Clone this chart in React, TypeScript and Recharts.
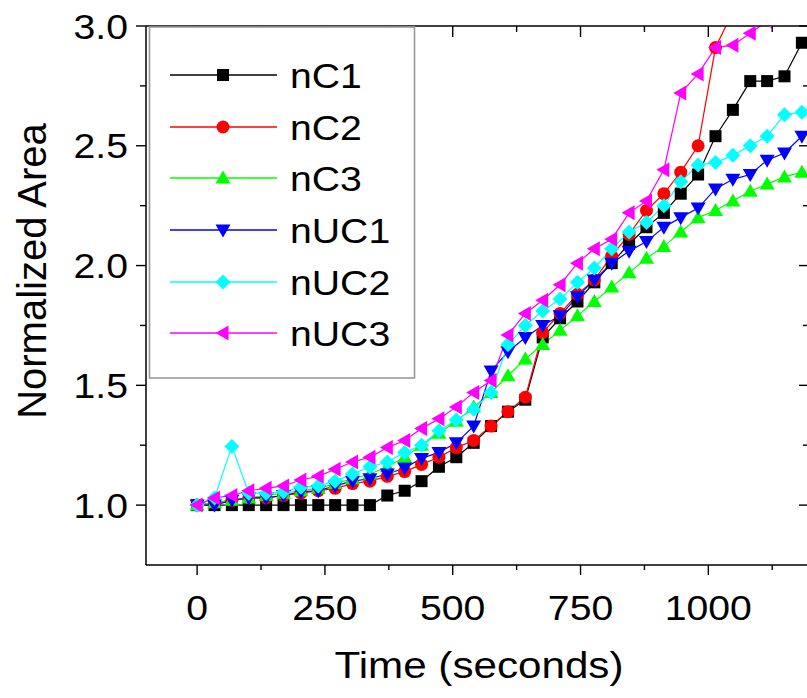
import React from 'react'
import { LineChart, Line, XAxis, YAxis } from 'recharts'

// time (s) of each measurement
const times = [0, 34, 68, 101, 135, 169, 203, 237, 270, 304, 338, 372, 406, 439, 473, 507, 541, 575, 608, 642, 676, 710, 744, 777, 811, 845, 879, 913, 946, 980, 1014, 1048, 1082, 1115, 1149, 1183]

const nC1 = [1, 1, 1, 1, 1, 1, 1, 1, 1, 1, 1, 1.04, 1.06, 1.1, 1.16, 1.2, 1.26, 1.33, 1.39, 1.44, 1.7, 1.78, 1.85, 1.93, 2.01, 2.09, 2.16, 2.22, 2.3, 2.38, 2.54, 2.65, 2.77, 2.77, 2.79, 2.93]
const nC2 = [1, 1.01, 1.02, 1.03, 1.03, 1.04, 1.05, 1.06, 1.07, 1.09, 1.1, 1.12, 1.14, 1.17, 1.2, 1.24, 1.27, 1.33, 1.39, 1.45, 1.72, 1.8, 1.88, 1.94, 2.04, 2.13, 2.23, 2.3, 2.39, 2.5, 2.91, 3.06, null, null, null, null]
const nC3 = [1, 1.01, 1.02, 1.03, 1.04, 1.05, 1.06, 1.07, 1.09, 1.11, 1.13, 1.16, 1.2, 1.25, 1.3, 1.35, 1.41, 1.47, 1.54, 1.61, 1.67, 1.73, 1.79, 1.85, 1.91, 1.97, 2.03, 2.08, 2.14, 2.2, 2.23, 2.27, 2.31, 2.34, 2.37, 2.39]
const nUC1 = [1, 1, 1.02, 1.03, 1.03, 1.04, 1.055, 1.06, 1.08, 1.1, 1.11, 1.13, 1.155, 1.195, 1.22, 1.26, 1.33, 1.56, 1.64, 1.7, 1.75, 1.79, 1.87, 1.94, 2.01, 2.06, 2.1, 2.16, 2.2, 2.24, 2.32, 2.36, 2.38, 2.44, 2.47, 2.54]
const nUC2 = [1, 1.03, 1.245, 1.05, 1.05, 1.055, 1.075, 1.08, 1.1, 1.13, 1.16, 1.18, 1.22, 1.25, 1.31, 1.355, 1.4, 1.47, 1.67, 1.75, 1.81, 1.86, 1.93, 1.99, 2.07, 2.14, 2.18, 2.25, 2.35, 2.42, 2.43, 2.46, 2.5, 2.54, 2.63, 2.64]
const nUC3 = [1, 1.03, 1.04, 1.06, 1.07, 1.08, 1.105, 1.12, 1.15, 1.18, 1.2, 1.24, 1.27, 1.32, 1.36, 1.41, 1.47, 1.52, 1.71, 1.8, 1.855, 1.92, 2.01, 2.07, 2.11, 2.22, 2.27, 2.4, 2.72, 2.8, 2.91, 2.92, 2.97, 3.02, null, null]

const xTicks = [0, 125, 250, 375, 500, 625, 750, 875, 1000, 1125]
const yTicks = [1, 1.25, 1.5, 1.75, 2, 2.25, 2.5, 2.75, 3]

const series = [
  { key: 'nC1', values: nC1, color: '#000000', shape: 'square' },
  { key: 'nC2', values: nC2, color: '#ff0000', shape: 'circle' },
  { key: 'nC3', values: nC3, color: '#00ff00', shape: 'up' },
  { key: 'nUC1', values: nUC1, color: '#0000ff', shape: 'down' },
  { key: 'nUC2', values: nUC2, color: '#00ffff', shape: 'diamond' },
  { key: 'nUC3', values: nUC3, color: '#ff00ff', shape: 'left' },
]

const rows = times.map((t, i) => {
  const row: Record<string, number | null> = { t }
  series.forEach((s) => { row[s.key] = s.values[i] ?? null })
  return row
})

const FONT = '"Liberation Sans", Arial, Helvetica, sans-serif'
const STRETCH = 1.12

function Marker({ shape, cx, cy, color }: { shape: string; cx: number; cy: number; color: string }) {
  const r = 7.5
  switch (shape) {
    case 'square':
      return <rect x={cx - 6} y={cy - 6} width={12} height={12} fill={color} />
    case 'circle':
      return <circle cx={cx} cy={cy} r={6.5} fill={color} />
    case 'up':
      return <polygon points={`${cx},${cy - r} ${cx + r},${cy + 5.5} ${cx - r},${cy + 5.5}`} fill={color} />
    case 'down':
      return <polygon points={`${cx},${cy + r} ${cx + r},${cy - 5.5} ${cx - r},${cy - 5.5}`} fill={color} />
    case 'diamond':
      return <polygon points={`${cx},${cy - r} ${cx + r},${cy} ${cx},${cy + r} ${cx - r},${cy}`} fill={color} />
    default:
      return <polygon points={`${cx - r},${cy} ${cx + 5.5},${cy - r} ${cx + 5.5},${cy + r}`} fill={color} />
  }
}

const makeDot = (shape: string, color: string) => (props: any) => {
  const { cx, cy, index, value } = props
  if (cx == null || cy == null || value == null) return <g key={`${shape}-${index}`} />
  return (
    <g key={`${shape}-${index}`}>
      <Marker shape={shape} cx={cx} cy={cy} color={color} />
    </g>
  )
}

const isMajorX = (v: number) => v % 250 === 0
const isMajorY = (v: number) => Math.abs(v * 2 - Math.round(v * 2)) < 1e-6

const BottomTick = ({ x, y, payload }: any) => {
  const major = isMajorX(payload.value)
  return (
    <g>
      <line x1={x} x2={x} y1={y} y2={y + (major ? 10 : 5)} stroke="#000" strokeWidth={1.4} />
      {major && (
        <text transform={`translate(${x},${y + 55}) scale(${STRETCH},1)`} textAnchor="middle"
          fontSize={35} fontFamily={FONT} fill="#000">{payload.value}</text>
      )}
    </g>
  )
}

const TopTick = ({ x, y, payload }: any) => {
  const major = isMajorX(payload.value)
  return <line x1={x} x2={x} y1={y} y2={y + (major ? 11 : 6)} stroke="#000" strokeWidth={1.4} />
}

const LeftTick = ({ x, y, payload }: any) => {
  const major = isMajorY(payload.value)
  return (
    <g>
      <line x1={x - (major ? 10 : 6)} x2={x} y1={y} y2={y} stroke="#000" strokeWidth={1.4} />
      {major && (
        <text transform={`translate(${x - 18},${y + 12.5}) scale(${STRETCH},1)`} textAnchor="end"
          fontSize={35} fontFamily={FONT} fill="#000">{payload.value.toFixed(1)}</text>
      )}
    </g>
  )
}

const RightTick = ({ x, y, payload }: any) => {
  const major = isMajorY(payload.value)
  return <line x1={x - (major ? 8 : 4)} x2={x} y1={y} y2={y} stroke="#000" strokeWidth={1.4} />
}

const legendRows = [75, 127, 178, 230, 282, 333]

function Overlay() {
  return (
    <svg width={807} height={698} style={{ position: 'absolute', left: 0, top: 0, pointerEvents: 'none' }}>
      <rect x={149.5} y={27} width={265} height={351} fill="#fff" stroke="#999" strokeWidth={1.6} />
      {series.map((s, i) => {
        const cy = legendRows[i]
        return (
          <g key={s.key}>
            <line x1={170} x2={277} y1={cy} y2={cy} stroke={s.color} strokeWidth={1.5} />
            <Marker shape={s.shape} cx={223} cy={cy} color={s.color} />
            <text transform={`translate(290,${cy + 12.5}) scale(${STRETCH},1)`} fontSize={35}
              fontFamily={FONT} fill="#000">{s.key}</text>
          </g>
        )
      })}
      <text transform={`translate(479,678) scale(1.14,1)`} textAnchor="middle" fontSize={37}
        fontFamily={FONT} fill="#000">Time (seconds)</text>
      <text transform="translate(46,271) rotate(-90)" textAnchor="middle" fontSize={40}
        fontFamily={FONT} fill="#000">Normalized Area</text>
    </svg>
  )
}

export default function App() {
  return (
    <div style={{ position: 'absolute', left: 0, top: 0, width: 807, height: 698, overflow: 'hidden', background: '#fff' }}>
      <LineChart width={812} height={698} data={rows} margin={{ top: 0, right: 0, left: 0, bottom: 0 }}>
        <XAxis xAxisId="b" type="number" dataKey="t" domain={[-100, 1193]} allowDataOverflow
          ticks={xTicks} interval={0} height={133} tickSize={0} tickMargin={0}
          tick={BottomTick} tickLine={false} axisLine={{ stroke: '#000', strokeWidth: 1.5 }} />
        <XAxis xAxisId="t" orientation="top" type="number" dataKey="t" domain={[-100, 1193]} allowDataOverflow
          ticks={xTicks} interval={0} height={26} tickSize={0} tickMargin={0}
          tick={TopTick} tickLine={false} axisLine={{ stroke: '#000', strokeWidth: 1.5 }} />
        <YAxis yAxisId="l" type="number" domain={[0.75, 3]} allowDataOverflow ticks={yTicks} interval={0}
          width={146} tickSize={0} tickMargin={0} tick={LeftTick} tickLine={false}
          axisLine={{ stroke: '#000', strokeWidth: 1.5 }} />
        <YAxis yAxisId="r" orientation="right" type="number" domain={[0.75, 3]} allowDataOverflow ticks={yTicks}
          interval={0} width={5} tickSize={0} tickMargin={0} tick={RightTick} tickLine={false} axisLine={false} />
        {series.map((s) => (
          <Line key={s.key} xAxisId="b" yAxisId="l" type="linear" dataKey={s.key} stroke={s.color}
            strokeWidth={1.2} dot={makeDot(s.shape, s.color)} activeDot={false}
            isAnimationActive={false} connectNulls={false} />
        ))}
      </LineChart>
      <Overlay />
    </div>
  )
}
